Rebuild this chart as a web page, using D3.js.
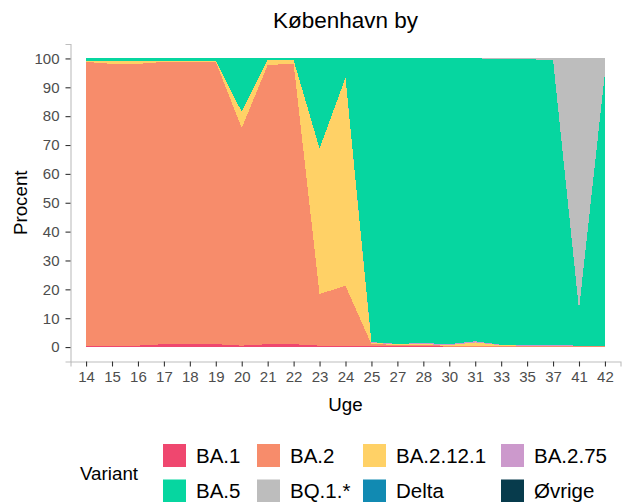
<!DOCTYPE html>
<html>
<head>
<meta charset="utf-8">
<script src="https://cdn.jsdelivr.net/npm/d3@7"></script>
<style>
  body { margin: 0; background: #fff; }
  svg { display: block; font-family: "Liberation Sans", Arial, sans-serif; }
</style>
</head>
<body>
<svg width="622" height="502"></svg>
<script>
// Uge (week) categories
const weeks = ['14', '15', '16', '17', '18', '19', '20', '21', '22', '23', '24', '25', '27', '28', '30', '31', '33', '35', '37', '41', '42'];

// share per variant in percent
const ba1     = [0.5, 0.5, 0.5, 1.0, 1.0, 1.0, 0.5, 1.0, 1.0, 0.5, 0.5, 0.3, 0.5, 0.5, 0.1, 0.1, 0.1, 0.1, 0.1, 0.1, 0.1];
const ba2     = [98.3, 97.6, 97.6, 97.8, 97.8, 97.8, 75.4, 96.7, 97.2, 17.9, 20.7, 0.7, 0.3, 0.3, 0.3, 0.3, 0.3, 0.3, 0.3, 0.3, 0.3];
const ba2121  = [0.4, 1.1, 1.1, 0.4, 0.4, 0.4, 5.6, 1.7, 1.2, 50.4, 72.1, 0.5, 0.1, 0.2, 0.3, 1.2, 0.2, 0.1, 0.1, 0, 0];
const ba275   = [0, 0, 0, 0, 0, 0, 0, 0, 0, 0, 0, 0.2, 0.2, 0.4, 0.3, 0.4, 0.2, 0.2, 0.2, 0.1, 0.1];
const ba5     = [0.8, 0.8, 0.8, 0.8, 0.8, 0.8, 18.5, 0.6, 0.6, 31.2, 6.7, 98.3, 98.9, 98.6, 99.0, 98.0, 99.1, 99.0, 98.8, 12.5, 94.5];
const bq1     = [0, 0, 0, 0, 0, 0, 0, 0, 0, 0, 0, 0, 0, 0, 0, 0, 0.1, 0.3, 0.5, 87.0, 5.0];
const delta   = [0, 0, 0, 0, 0, 0, 0, 0, 0, 0, 0, 0, 0, 0, 0, 0, 0, 0, 0, 0, 0];
const ovrige  = [0, 0, 0, 0, 0, 0, 0, 0, 0, 0, 0, 0, 0, 0, 0, 0, 0, 0, 0, 0, 0];

const variants = ['BA.1', 'BA.2', 'BA.2.12.1', 'BA.2.75', 'BA.5', 'BQ.1.*', 'Delta', 'Øvrige'];
const colors   = ['#EF476F', '#F78C6B', '#FFD166', '#CC99CC', '#06D6A0', '#BDBDBD', '#118AB2', '#073B4C'];
const yTicks   = [0, 10, 20, 30, 40, 50, 60, 70, 80, 90, 100];

const series = [ba1, ba2, ba2121, ba275, ba5, bq1, delta, ovrige];
const table = weeks.map((w, i) => {
  const row = { week: w };
  variants.forEach((v, j) => { row[v] = series[j][i]; });
  return row;
});

const svg = d3.select('svg');
const panel = { left: 70.5, right: 620.5, top: 44, bottom: 361.5 };

const x = d3.scalePoint()
  .domain(weeks)
  .range([panel.left, panel.right])
  .padding(0.6);

const y = d3.scaleLinear()
  .domain([-5, 105])
  .range([panel.bottom, panel.top]);

const color = d3.scaleOrdinal().domain(variants).range(colors);

const stacked = d3.stack().keys(variants)(table);

const area = d3.area()
  .x(d => x(d.data.week))
  .y0(d => y(d[0]))
  .y1(d => y(d[1]));

// stacked areas
svg.append('g')
  .selectAll('path')
  .data(stacked)
  .enter()
  .append('path')
  .attr('d', area)
  .attr('fill', d => color(d.key))
  .attr('shape-rendering', 'crispEdges');

// y axis
const yAxis = svg.append('g').attr('transform', `translate(${panel.left},0)`)
  .call(d3.axisLeft(y).tickValues(yTicks).tickSize(5).tickPadding(6));
yAxis.select('.domain').attr('stroke', '#BEBEBE').attr('stroke-width', 1.1);
yAxis.selectAll('.tick line').attr('stroke', '#333').attr('stroke-width', 1.1);
yAxis.selectAll('.tick text').attr('fill', '#4D4D4D').style('font-size', '15px')
  .attr('font-family', null);

// x axis
const xAxis = svg.append('g').attr('transform', `translate(0,${panel.bottom})`)
  .call(d3.axisBottom(x).tickSize(5).tickPadding(5));
xAxis.select('.domain').attr('stroke', '#BEBEBE').attr('stroke-width', 1.1);
xAxis.selectAll('.tick line').attr('stroke', '#333').attr('stroke-width', 1.1);
xAxis.selectAll('.tick text').attr('fill', '#4D4D4D').style('font-size', '15px')
  .attr('font-family', null);

// titles
svg.append('text')
  .attr('x', (panel.left + panel.right) / 2)
  .attr('y', 27.5)
  .attr('text-anchor', 'middle')
  .style('font-size', '22.5px')
  .text('København by');

svg.append('text')
  .attr('x', (panel.left + panel.right) / 2)
  .attr('y', 411)
  .attr('text-anchor', 'middle')
  .style('font-size', '18.75px')
  .text('Uge');

svg.append('text')
  .attr('transform', `translate(27,${(panel.top + panel.bottom) / 2}) rotate(-90)`)
  .attr('text-anchor', 'middle')
  .style('font-size', '18.75px')
  .text('Procent');

// legend, 4 columns x 2 rows
const keyX = [163, 257, 363, 501];
const rowY = [455.5, 491];
const keySize = 23;

svg.append('text')
  .attr('x', 80)
  .attr('y', (rowY[0] + rowY[1]) / 2 + 6.5)
  .style('font-size', '18.75px')
  .text('Variant');

const items = svg.append('g')
  .selectAll('g')
  .data(variants)
  .enter()
  .append('g')
  .attr('transform', (d, i) => `translate(${keyX[i % 4]},${rowY[Math.floor(i / 4)]})`);

items.append('rect')
  .attr('x', 0)
  .attr('y', -keySize / 2)
  .attr('width', keySize)
  .attr('height', keySize)
  .attr('fill', d => color(d));

items.append('text')
  .attr('x', keySize + 10)
  .attr('y', 7.3)
  .style('font-size', '20.5px')
  .text(d => d);
</script>
</body>
</html>
